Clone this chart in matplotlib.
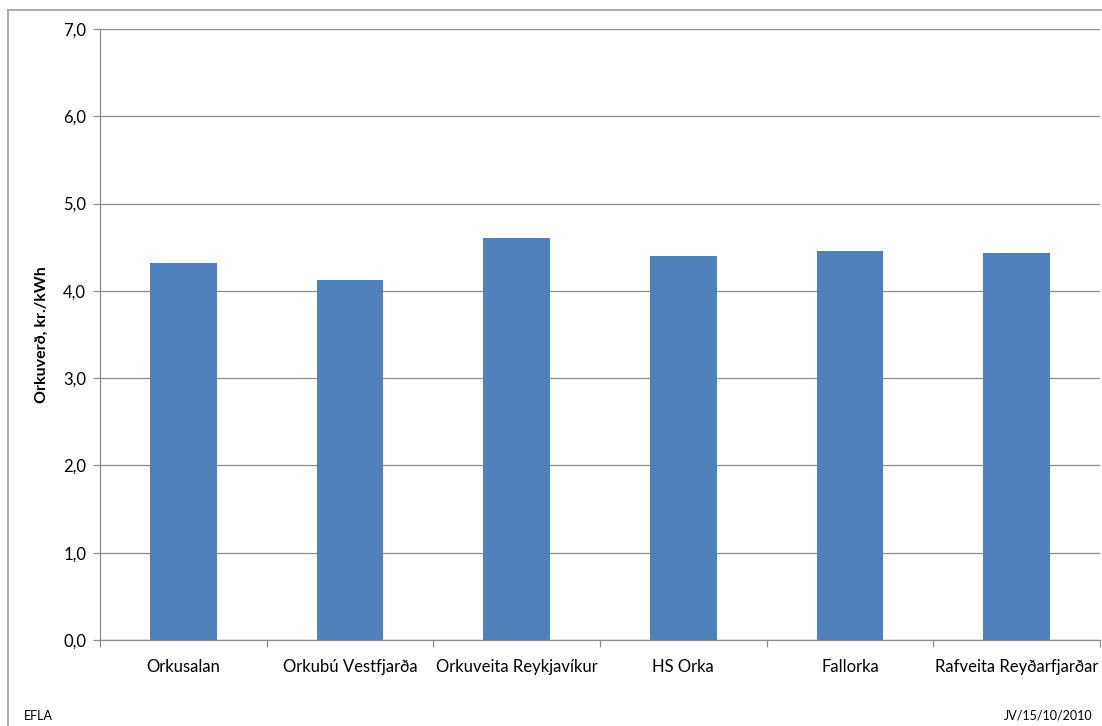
import matplotlib.pyplot as plt
from matplotlib.lines import Line2D
from matplotlib.ticker import FuncFormatter, FixedLocator

plt.rcParams['font.family'] = ['Lato', 'DejaVu Sans']

companies = ['Orkusalan', 'Orkubú Vestfjarða', 'Orkuveita Reykjavíkur',
             'HS Orka', 'Fallorka', 'Rafveita Reyðarfjarðar']
prices = [4.32, 4.12, 4.60, 4.40, 4.46, 4.43]

W, H = 1102, 726
fig = plt.figure(figsize=(W / 100, H / 100), dpi=100)
ax = fig.add_axes([100 / W, 1 - 640 / H, 1000 / W, 611 / H])

x = list(range(len(companies)))
ax.bar(x, prices, width=0.40, color='#4F81BD', zorder=3)

ax.set_xlim(-0.5, len(companies) - 0.5)
ax.set_ylim(0, 7)
ax.set_yticks([0, 1, 2, 3, 4, 5, 6, 7])
ax.yaxis.set_major_formatter(FuncFormatter(lambda v, p: '{:.1f}'.format(v).replace('.', ',')))
ax.grid(axis='y', color='#8c8c8c', linewidth=0.9, zorder=0)

ax.set_xticks(x)
ax.set_xticklabels(companies)
ax.xaxis.set_minor_locator(FixedLocator([i - 0.5 for i in range(len(companies) + 1)]))
ax.tick_params(axis='x', which='major', length=0, pad=14, labelsize=12)
ax.tick_params(axis='x', which='minor', length=5, color='#8c8c8c', width=0.9)
ax.tick_params(axis='y', length=5, color='#8c8c8c', width=0.9, labelsize=12, pad=5)

for s in ['top', 'right']:
    ax.spines[s].set_visible(False)
for s in ['left', 'bottom']:
    ax.spines[s].set_color('#8c8c8c')
    ax.spines[s].set_linewidth(0.9)

ax.set_ylabel('Orkuverð, kr./kWh', fontweight='bold', fontsize=11.5, labelpad=10)

fig.text(24 / W, 1 - 716 / H, 'EFLA', fontsize=9, va='center', ha='left')
fig.text(1092 / W, 1 - 716 / H, 'JV/15/10/2010', fontsize=9, va='center', ha='right')

# outer chart border
fig.add_artist(Line2D([8 / W, 8 / W], [0, 1 - 10 / H], color='#a0a0a0', linewidth=1.2))
fig.add_artist(Line2D([8 / W, 1], [1 - 10 / H, 1 - 10 / H], color='#a0a0a0', linewidth=1.2))

fig.savefig('out.png', dpi=100)
